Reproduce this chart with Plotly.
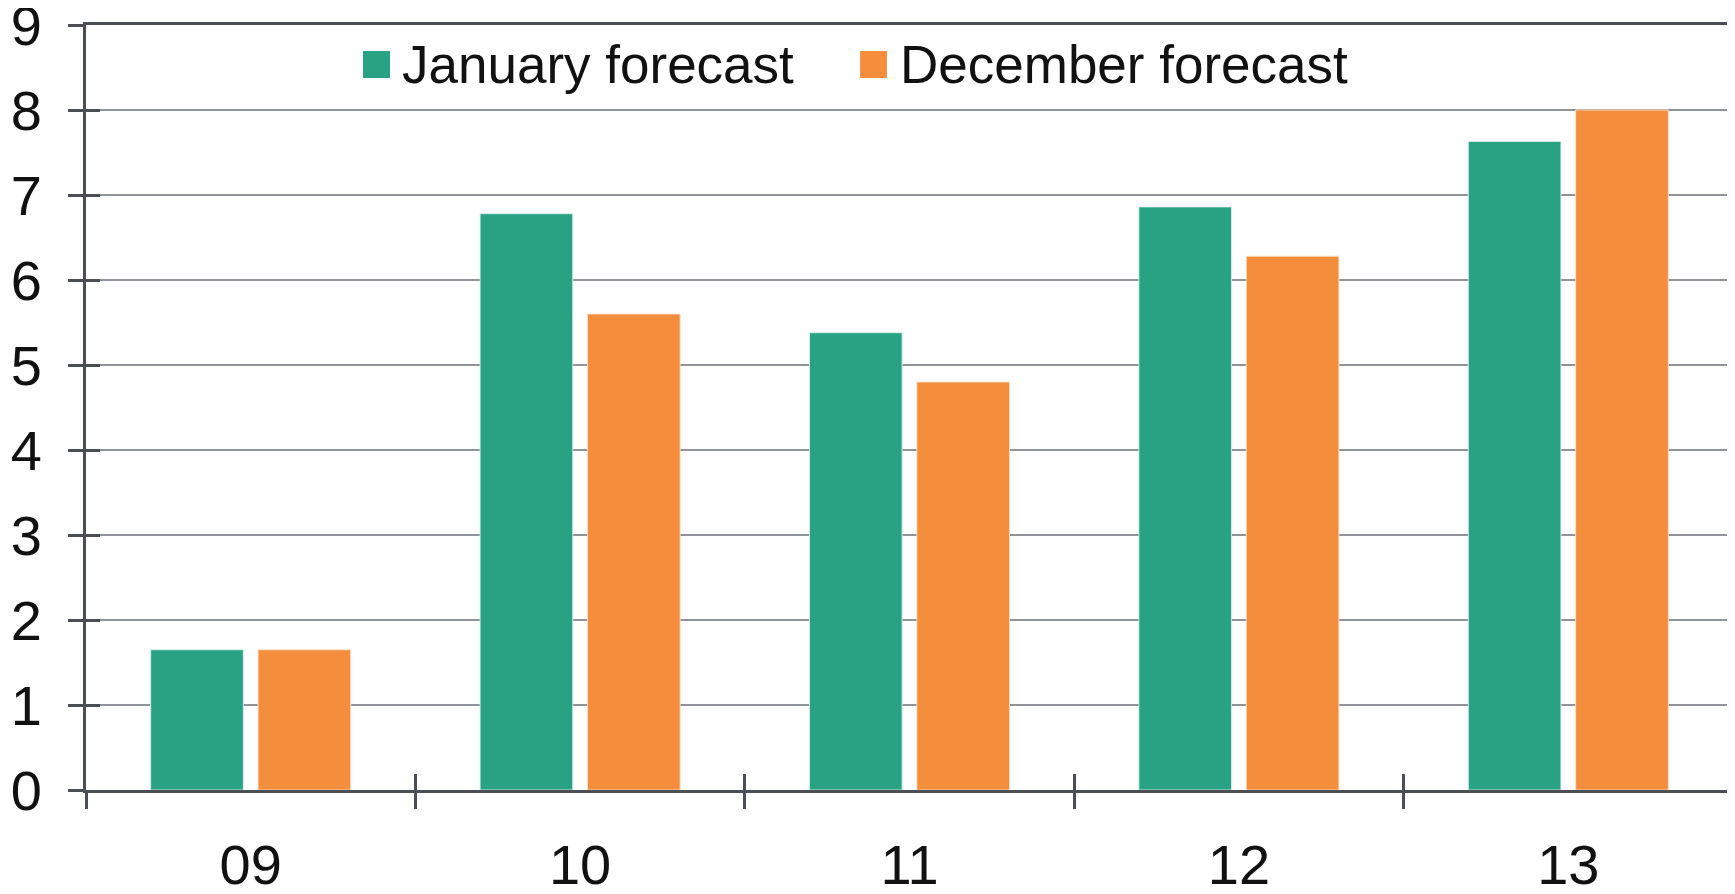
import plotly.graph_objects as go

categories = ["09", "10", "11", "12", "13"]
january_forecast = [1.65, 6.78, 5.38, 6.86, 7.63]
december_forecast = [1.65, 5.60, 4.80, 6.28, 8.00]
series_names = ["January forecast", "December forecast"]
y_ticks = [0, 1, 2, 3, 4, 5, 6, 7, 8, 9]

GREEN = "rgb(40,162,131)"
ORANGE = "rgb(244,141,60)"
AXIS = "#4b4f54"
GRID = "#909397"
FONT = "Liberation Sans, Arial, sans-serif"
FS = 56
LFS = 53

fig = go.Figure()
fig.add_trace(go.Bar(x=categories, y=january_forecast, name=series_names[0],
                     marker=dict(color=GREEN, line=dict(color="rgba(220,240,235,0.9)", width=1)),
                     showlegend=False))
fig.add_trace(go.Bar(x=categories, y=december_forecast, name=series_names[1],
                     marker=dict(color=ORANGE, line=dict(color="rgba(252,225,205,0.9)", width=1)),
                     showlegend=False))
# empty helper trace so the overlay axes (inner half of the crossing ticks) get drawn
fig.add_trace(go.Scatter(x=[], y=[], xaxis="x2", yaxis="y2", showlegend=False, hoverinfo="skip"))

# manual legend (large swatches)
legend_items = [
    (series_names[0], GREEN, 0.1682, 0.1846, 0.1904),
    (series_names[1], ORANGE, 0.4700, 0.4863, 0.4933),
]
for name, col, x0, x1, tx in legend_items:
    fig.add_shape(type="rect", xref="paper", yref="paper", x0=x0, x1=x1, y0=0.9307, y1=0.966,
                  fillcolor=col, line=dict(width=0))
    fig.add_annotation(text=name, xref="paper", yref="paper", x=tx, y=0.949,
                       xanchor="left", yanchor="middle", showarrow=False,
                       font=dict(family=FONT, size=LFS, color="#111111"))

# page body has an 8px margin, so the figure is 8px smaller and margins shifted
fig.update_layout(
    width=1727, height=886,
    margin=dict(l=78, r=2, t=17, b=104, autoexpand=False),
    paper_bgcolor="white", plot_bgcolor="white",
    barmode="group", bargap=0.348, bargroupgap=0.137,
    font=dict(family=FONT, size=FS, color="#111111"),
    xaxis=dict(type="category", categoryorder="array", categoryarray=categories,
               tickson="boundaries", ticks="outside", ticklen=16, tickwidth=2.5, tickcolor=AXIS,
               showline=True, linecolor=AXIS, linewidth=3, mirror=True,
               showgrid=False, ticklabelstandoff=24, ticklabeloverflow="allow",
               tickfont=dict(family=FONT, size=FS, color="#111111")),
    yaxis=dict(range=[0, 9], tickvals=y_ticks, ticks="outside", ticklen=15, tickwidth=2.5,
               tickcolor=AXIS, showline=True, linecolor=AXIS, linewidth=3, mirror=True,
               showgrid=True, gridcolor=GRID, gridwidth=2, zeroline=False,
               ticklabelstandoff=15, ticklabeloverflow="allow",
               tickfont=dict(family=FONT, size=FS, color="#111111")),
    xaxis2=dict(overlaying="x", anchor="y2", range=[-0.5, 4.5], tickvals=[0.5, 1.5, 2.5, 3.5],
                ticks="inside", ticklen=16, tickwidth=2.5, tickcolor=AXIS,
                showticklabels=False, showgrid=False, zeroline=False, showline=False),
    yaxis2=dict(overlaying="y", anchor="x2", range=[0, 9], tickvals=y_ticks,
                ticks="inside", ticklen=14, tickwidth=2.5, tickcolor=AXIS,
                showticklabels=False, showgrid=False, zeroline=False, showline=False),
)

fig.write_html("out.html")
